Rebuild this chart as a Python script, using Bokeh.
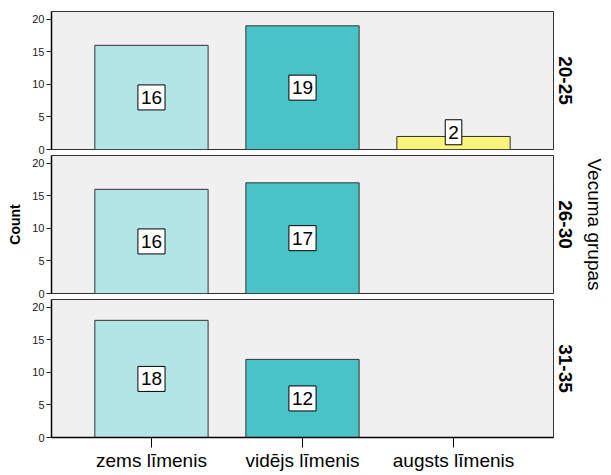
from bokeh.plotting import figure
from bokeh.models import Range1d, FixedTicker, Label, Title
from bokeh.layouts import column
from bokeh.embed import file_html
from bokeh.resources import INLINE

categories = ["zems līmenis", "vidējs līmenis", "augsts līmenis"]
groups = ["20-25", "26-30", "31-35"]
counts_20_25 = [16, 19, 2]
counts_26_30 = [16, 17, 0]
counts_31_35 = [18, 12, 0]
y_ticks = [0, 5, 10, 15, 20]

bar_colors = ["#B4E5E6", "#49C3C6", "#F8F57A"]
FONT = "Liberation Sans"

xs = [i + 1 for i in range(len(categories))]
all_counts = [counts_20_25, counts_26_30, counts_31_35]

figs = []
for gi, (grp, counts) in enumerate(zip(groups, all_counts)):
    last = gi == len(groups) - 1
    p = figure(frame_width=502, frame_height=138, output_backend="svg",
               toolbar_location=None, x_range=Range1d(0.338, 3.662),
               y_range=Range1d(0, 21.2),
               min_border_left=51, min_border_right=0,
               min_border_top=11 if gi == 0 else 0,
               min_border_bottom=6 if not last else 0)
    p.background_fill_color = "#F0F0F0"
    p.border_fill_color = "white"
    p.outline_line_color = "#333333"
    p.outline_line_width = 1
    p.grid.visible = False

    bx = [x for x, v in zip(xs, counts) if v > 0]
    bv = [v for v in counts if v > 0]
    bc = [c for c, v in zip(bar_colors, counts) if v > 0]
    p.vbar(x=bx, top=bv, width=0.75, bottom=0, fill_color=bc,
           line_color="#333333", line_width=1)

    for x, v in zip(bx, bv):
        p.add_layout(Label(x=x, y=max(v / 2, 2.65), text=str(v),
                           text_align="center", text_baseline="middle",
                           text_font=FONT, text_font_size="19px",
                           text_color="black",
                           background_fill_color="white",
                           border_line_color="black", border_line_width=1,
                           padding=(3, 3, 6, 6)))

    yax = p.yaxis[0]
    yax.ticker = FixedTicker(ticks=y_ticks)
    yax.minor_tick_line_color = None
    yax.major_tick_out = 5
    yax.major_tick_in = 0
    yax.major_label_standoff = 2
    yax.major_label_text_font = FONT
    yax.major_label_text_font_size = "11px"
    yax.major_label_text_color = "#222222"
    yax.axis_line_color = "black"
    yax.axis_line_width = 1.5
    yax.major_tick_line_color = "#222222"
    if gi == 1:
        yax.axis_label = "Count"
        yax.axis_label_text_font = FONT
        yax.axis_label_text_font_size = "14px"
        yax.axis_label_text_font_style = "bold"
        yax.axis_label_text_color = "black"
        yax.axis_label_standoff = 6

    xax = p.xaxis[0]
    if last:
        xax.ticker = FixedTicker(ticks=xs)
        xax.major_label_overrides = {x: c for x, c in zip(xs, categories)}
        xax.minor_tick_line_color = None
        xax.major_tick_out = 10
        xax.major_tick_in = 0
        xax.major_label_standoff = 2
        xax.major_label_text_font = FONT
        xax.major_label_text_font_size = "19px"
        xax.major_label_text_color = "black"
        xax.axis_line_color = "black"
        xax.axis_line_width = 1.5
        xax.major_tick_line_color = "black"
    else:
        xax.visible = False

    p.add_layout(Title(text=grp, align="center", text_font=FONT,
                       text_font_size="19px", text_font_style="bold",
                       text_color="black", standoff=11), "right")
    if gi == 1:
        p.add_layout(Title(text="Vecuma grupas", align="center",
                           text_font=FONT, text_font_size="19px",
                           text_font_style="normal", text_color="black",
                           standoff=8), "right")
    figs.append(p)

layout = column(*figs, spacing=0)
open("out.html", "w").write(file_html(layout, INLINE))
